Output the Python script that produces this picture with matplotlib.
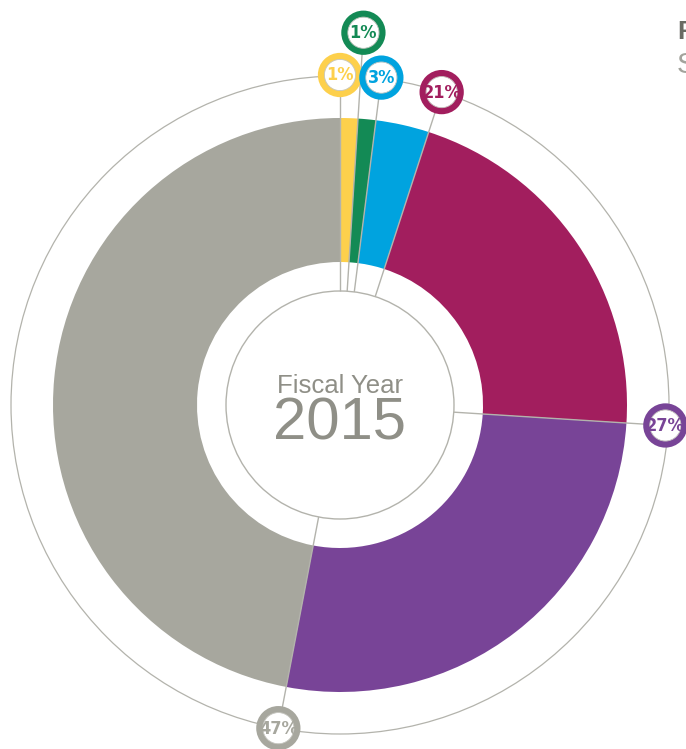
import numpy as np
import matplotlib.pyplot as plt
from matplotlib.patches import Circle

# donut shares, clockwise from 12 o'clock
labels = ['1%', '1%', '3%', '21%', '27%', '47%']
values = [1, 1, 3, 21, 27, 47]
colors = ['#fdd04c', '#138a55', '#00a3df', '#a21e5e', '#784497', '#a7a79e']
# radial distance of each label bubble (green one is pushed out)
label_r = [330, 373, 330, 329, 326, 329]

fig = plt.figure(figsize=(6.86, 7.49), dpi=100)
ax = fig.add_axes([0, 0, 1, 1])
# 1 data unit = 1 pixel, donut centre at (0, 0)
ax.pie(values, colors=colors, radius=287, startangle=90, counterclock=False,
       wedgeprops=dict(width=144, edgecolor='none'), center=(0, 0))
ax.set_xlim(-340, 346)
ax.set_ylim(-344, 405)
ax.set_aspect('equal')
ax.axis('off')

line_col = '#b3b3ac'
ax.add_patch(Circle((0, 0), 114, fill=False, ec=line_col, lw=1.0, zorder=3))
ax.add_patch(Circle((0, 0), 329, fill=False, ec=line_col, lw=0.9, zorder=3))

# labels sit at the start angle of each wedge
starts = np.concatenate([[0], np.cumsum(values)[:-1]]) / 100.0 * 360.0
for lab, col, r, a in zip(labels, colors, label_r, starts):
    th = np.deg2rad(90 - a)
    ux, uy = np.cos(th), np.sin(th)
    ax.plot([114 * ux, (r - 19) * ux], [114 * uy, (r - 19) * uy],
            color=line_col, lw=1.0, zorder=4, solid_capstyle='butt')
    cx, cy = r * ux, r * uy
    ax.add_patch(Circle((cx, cy), 18.8, fc='white', ec=col, lw=4.8, zorder=5))
    ax.add_patch(Circle((cx, cy), 15.6, fill=False, ec='#c8c8c2', lw=0.6, zorder=6))
    ax.text(cx, cy - 0.5, lab, color=col, fontsize=13, fontweight='bold',
            family='DejaVu Sans', fontstretch='condensed',
            ha='center', va='center', zorder=7)

ax.text(0, 12, 'Fiscal Year', color='#8f8f87', fontsize=18.5,
        family=['Liberation Sans', 'DejaVu Sans'], ha='center', va='baseline')
ax.text(0, -35, '2015', color='#8f8f87', fontsize=43,
        family=['Liberation Sans', 'DejaVu Sans'], ha='center', va='baseline')

# title block, cut off at the right edge
fig.text(677 / 686, 1 - 32 / 749, 'Funding', color='#6b6b64', fontsize=19,
         fontweight='bold', family=['Liberation Sans', 'DejaVu Sans'],
         ha='left', va='center')
fig.text(677 / 686, 1 - 65 / 749, 'Sources', color='#a3a39c', fontsize=21,
         family=['Liberation Sans', 'DejaVu Sans'], ha='left', va='center')

fig.savefig('out.png', dpi=100)
